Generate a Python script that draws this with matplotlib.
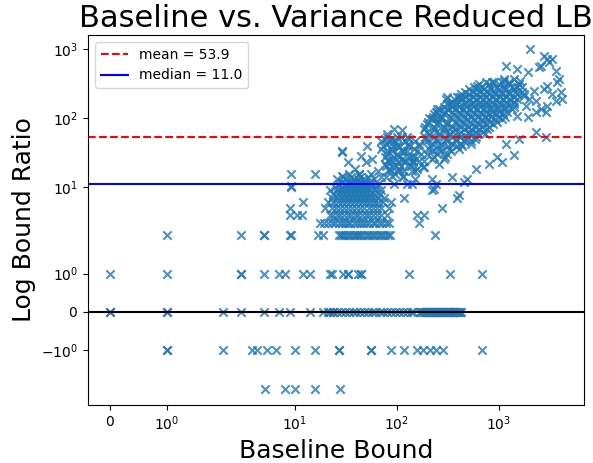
import numpy as np
import matplotlib
matplotlib.use('Agg')
import matplotlib.pyplot as plt

mean_val = 53.9
median_val = 11.0

# points that sit on the integer rows of the ratio
x_m2 = [5.1, 8, 10, 16, 28]
x_m1 = [1, 1, 2, 3.8, 4.3, 5.4, 6.6, 10, 16, 27, 27, 56, 56, 88, 117, 157, 180, 210, 243, 283, 690]
x_0 = [0, 0, 1, 1, 2, 3, 5, 7, 9, 14, 19, 21, 24,
       22, 24, 26, 28.5, 31, 34, 37, 40, 44, 48, 52, 57, 62, 68, 74, 81, 88, 96, 105, 115, 125, 137, 143,
       171, 179, 188, 197, 206, 216, 226, 237, 248, 260, 273, 286, 300, 314, 329, 345, 362, 380, 398, 417, 430,
       175, 184, 192, 201, 211, 221, 231, 242, 254, 266, 280, 293, 307, 321, 337, 353, 371, 389, 408]
x_1 = [0, 1, 3, 3, 5, 7, 8, 12, 14, 22, 23, 30, 33, 33, 42, 45, 45, 133, 336, 687]
x_2 = [1, 3, 5, 5, 9, 9.2, 17, 19, 240,
       27, 28.5, 30, 31.5, 33, 35, 37, 39, 41, 43, 45, 48, 51, 54, 57, 60, 64, 68, 72, 77, 82, 86]
x_3 = [17.6, 19.5, 21, 23, 25, 27, 29, 31, 33, 35, 38, 41, 44, 47, 50, 54, 58, 62, 67, 72, 78, 84, 167]

# low cluster, one list of x per ratio value
low_y = [4, 5, 6, 7, 8, 9, 10, 11, 12, 13, 14, 15.4]
low_x = [
    [8.9, 10.5, 11.7, 158, 187, 22, 24, 26, 28, 30.5, 33, 36, 39, 42, 46, 50, 54, 59, 64, 71, 80],
    [8.9, 280, 20, 23, 25.5, 28, 30.5, 33.5, 36.5, 40, 44, 48, 53, 58, 64, 71, 84],
    [12, 21, 24, 26.5, 29, 32, 35, 38.5, 42, 46, 50.5, 55, 60, 66, 73, 88],
    [119, 390, 23, 26, 28.5, 31, 34, 37, 40.5, 44.5, 49, 54, 59, 65, 75],
    [24, 26.5, 29.5, 32, 35, 38.5, 42, 46, 50, 55, 60, 68],
    [224, 22, 26, 28.5, 31, 34, 37.5, 41, 45, 49, 54, 61, 70],
    [9.1, 25, 29, 32, 35, 38, 42, 46, 51, 56, 63],
    [245, 142, 27, 31, 34, 37, 41, 45, 49, 56, 66],
    [460, 29, 33, 36.5, 40, 44, 49, 55],
    [26, 32, 38, 42, 47, 60],
    [30, 36, 44, 52, 70],
    [15.7, 9.1, 34, 43, 56],
]

# scattered points above the low cluster
sparse_x = [28.8, 28.8, 51, 45, 50, 33, 65, 38.6, 57, 43, 29, 9.1,
            76, 81, 89, 95, 101, 106, 113, 119, 128, 133, 140, 149, 160, 167, 85, 91, 97, 106, 116,
            76, 71, 81, 95, 133, 142, 152, 167, 175, 187, 125, 95, 78, 80, 89, 101, 110, 122, 146, 85, 104,
            209, 245, 315, 411, 315, 180, 224, 234, 345, 490, 411, 600, 113, 308, 350, 430, 250, 224, 250]
sparse_y = [32, 33, 39, 28, 23, 23, 17, 18.2, 25.5, 15.4, 14.5, 10.3,
            50, 42, 36, 47, 30, 38, 25.5, 33, 42, 21.6, 27, 36, 18.2, 24, 25.5, 19.5, 15.4, 18.2, 14.2,
            21.6, 36, 58.5, 69, 50, 17, 13, 42, 30, 19.5, 11, 11, 14.2, 30, 50, 41, 54, 24, 23, 18.2, 23,
            101, 123, 159, 202, 200, 19.5, 13, 9.4, 14.2, 13, 7.6, 18.2, 67, 188, 159, 202, 135, 97, 100]

# middle lobe, one list of x per ratio value
mid_y = [54, 46, 39, 33, 27.7, 23.5, 20, 17, 14.5]
mid_x = [
    [80, 100, 125],
    [70, 87, 97, 120, 150],
    [74, 93, 104, 130, 165],
    [80, 90, 112, 125, 158],
    [76, 95, 106, 132, 148],
    [82, 92, 115, 144, 185],
    [78, 98, 110, 138],
    [84, 106, 119, 150],
    [90, 115],
]

# upper cluster, one list of x per ratio value
up_y = [367, 338, 311, 286, 263, 242, 222, 204, 188, 173, 159, 146, 135, 124, 114, 105, 97, 89, 82, 75,
        69, 63.5, 58.5, 54, 50, 46, 42, 39, 36, 33, 30, 27.7, 25.5, 21.6]
up_x = [
    [1135, 1420],
    [760, 900, 1070, 1270],
    [646, 809, 1014, 1270, 1590],
    [577, 690, 820, 960, 1130, 1340, 1520],
    [515, 620, 723, 850, 1014, 1190, 1420],
    [470, 560, 660, 770, 900, 1050, 1230, 1450, 1680],
    [430, 515, 600, 700, 809, 930, 1080, 1270, 1520, 1780],
    [395, 470, 560, 650, 760, 880, 1020, 1190, 1400],
    [368, 440, 515, 600, 700, 809, 950, 1110, 1300, 1520],
    [345, 410, 480, 560, 650, 750, 870, 1010, 1180, 1400],
    [329, 395, 470, 550, 646, 760, 885, 1040, 1215, 1420],
    [294, 350, 410, 480, 560, 650, 750, 870, 1010, 1180, 1400],
    [262, 315, 375, 450, 527, 620, 723, 850, 990, 1160, 1360],
    [250, 300, 350, 410, 480, 560, 650, 750, 870, 1010, 1200],
    [234, 294, 368, 430, 505, 590, 690, 809, 950, 1110],
    [225, 275, 330, 395, 460, 540, 630, 730, 850, 1000, 1150],
    [220, 275, 345, 411, 490, 577, 680, 790, 930, 1080],
    [205, 255, 310, 370, 440, 520, 610, 710, 830, 970],
    [200, 250, 315, 395, 470, 550, 646, 760, 885],
    [190, 235, 290, 350, 420, 500, 590, 690, 800],
    [187, 240, 300, 375, 460, 540, 646, 775],
    [200, 245, 300, 360, 430, 510, 600, 700],
    [209, 262, 329, 411, 515, 620, 740],
    [190, 235, 290, 350, 420, 500, 600],
    [196, 245, 308, 385, 470, 590],
    [200, 250, 310, 380, 460, 530],
    [220, 275, 345, 430, 540],
    [210, 260, 320, 390, 440],
    [209, 262, 329, 411],
    [220, 270, 340],
    [200, 250, 315],
    [230, 300],
    [224, 294],
    [262],
]

# top right points
top_x = [2050, 2800, 2980, 3300, 3130, 1190, 1520, 2600, 3650, 3920, 3740, 1920, 2500, 2240, 2800, 3300,
         4100, 4200, 3650, 2980, 2600, 2900, 2340, 1680, 1780, 1920, 2000, 1850, 1520, 2340, 2980, 870,
         620, 1135, 1630, 2340, 2900, 1590, 1190, 1420, 1080, 809, 970]
top_y = [990, 790, 716, 716, 660, 565, 513, 565, 480, 367, 330, 465, 545, 245, 263, 222,
         240, 188, 178, 150, 135, 124, 124, 285, 206, 104, 188, 150, 107, 178, 296, 330,
         290, 345, 345, 63, 54, 50, 42, 29, 23, 21.6, 27]

xs = x_m2 + x_m1 + x_0 + x_1 + x_2 + x_3
ys = [-2] * len(x_m2) + [-1] * len(x_m1) + [0] * len(x_0) + [1] * len(x_1) + [2] * len(x_2) + [3] * len(x_3)
for yv, row in zip(low_y, low_x):
    xs += row
    ys += [yv] * len(row)
xs += sparse_x
ys += sparse_y
for yv, row in zip(mid_y, mid_x):
    xs += row
    ys += [yv] * len(row)
for yv, row in zip(up_y, up_x):
    xs += row
    ys += [yv] * len(row)
xs += top_x
ys += top_y

fig = plt.figure(figsize=(5.93, 4.63), dpi=100)
ax = fig.add_axes([0.1484, 0.1253, 0.8364, 0.7991])
ax.scatter(xs, ys, marker='x', color='tab:blue', alpha=0.8)
ax.axhline(mean_val, color='r', linestyle='--', label='mean = %.1f' % mean_val)
ax.axhline(median_val, color='b', label='median = %.1f' % median_val)
ax.axhline(0, color='k')
ax.set_xscale('symlog')
ax.set_yscale('symlog')
ax.set_xlim(-0.39, 6870)
ax.set_ylim(-3.45, 1600)
ax.set_title('Baseline vs. Variance Reduced LB', fontsize=22)
ax.set_xlabel('Baseline Bound', fontsize=18)
ax.set_ylabel('Log Bound Ratio', fontsize=18)
ax.legend(loc='upper left')
fig.savefig('out.png', dpi=100)
